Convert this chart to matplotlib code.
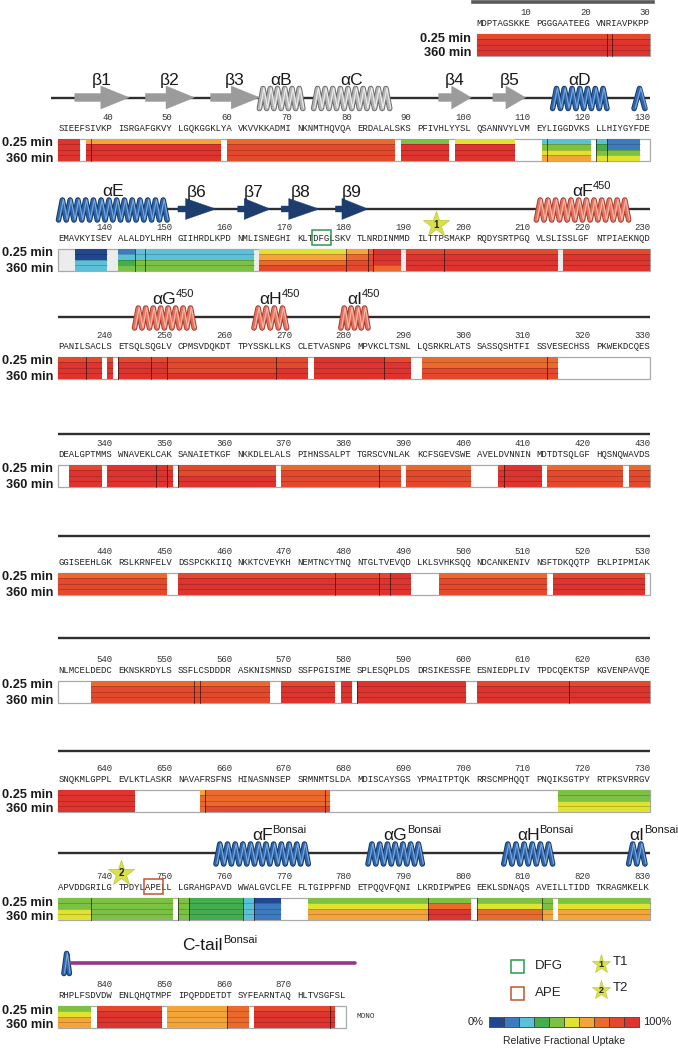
import matplotlib
matplotlib.use("Agg")
import matplotlib.pyplot as plt
from matplotlib.patches import Rectangle, Polygon

plt.rcParams['font.family'] = ['Liberation Sans', 'DejaVu Sans']

# ---------------- data ----------------
SEQ_GROUPS = [
    "MDPTAGSKKE", "PGGGAATEEG", "VNRIAVPKPP",
    "SIEEFSIVKP", "ISRGAFGKVY", "LGQKGGKLYA", "VKVVKKADMI", "NKNMTHQVQA", "ERDALALSKS", "PFIVHLYYSL", "QSANNVYLVM", "EYLIGGDVKS", "LLHIYGYFDE",
    "EMAVKYISEV", "ALALDYLHRH", "GIIHRDLKPD", "NMLISNEGHI", "KLTDFGLSKV", "TLNRDINMMD", "ILTTPSMAKP", "RQDYSRTPGQ", "VLSLISSLGF", "NTPIAEKNQD",
    "PANILSACLS", "ETSQLSQGLV", "CPMSVDQKDT", "TPYSSKLLKS", "CLETVASNPG", "MPVKCLTSNL", "LQSRKRLATS", "SASSQSHTFI", "SSVESECHSS", "PKWEKDCQES",
    "DEALGPTMMS", "WNAVEKLCAK", "SANAIETKGF", "NKKDLELALS", "PIHNSSALPT", "TGRSCVNLAK", "KCFSGEVSWE", "AVELDVNNIN", "MDTDTSQLGF", "HQSNQWAVDS",
    "GGISEEHLGK", "RSLKRNFELV", "DSSPCKKIIQ", "NKKTCVEYKH", "NEMTNCYTNQ", "NTGLTVEVQD", "LKLSVHKSQQ", "NDCANKENIV", "NSFTDKQQTP", "EKLPIPMIAK",
    "NLMCELDEDC", "EKNSKRDYLS", "SSFLCSDDDR", "ASKNISMNSD", "SSFPGISIME", "SPLESQPLDS", "DRSIKESSFE", "ESNIEDPLIV", "TPDCQEKTSP", "KGVENPAVQE",
    "SNQKMLGPPL", "EVLKTLASKR", "NAVAFRSFNS", "HINASNNSEP", "SRMNMTSLDA", "MDISCAYSGS", "YPMAITPTQK", "RRSCMPHQQT", "PNQIKSGTPY", "RTPKSVRRGV",
    "APVDDGRILG", "TPDYLAPELL", "LGRAHGPAVD", "WWALGVCLFE", "FLTGIPPFND", "ETPQQVFQNI", "LKRDIPWPEG", "EEKLSDNAQS", "AVEILLTIDD", "TKRAGMKELK",
    "RHPLFSDVDW", "ENLQHQTMPF", "IPQPDDETDT", "SYFEARNTAQ", "HLTVSGFSL",
]
ROW_FIRST = [-69, 31, 131, 231, 331, 431, 531, 631, 731, 831]
TIME_LABELS = ["0.25 min", "360 min"]

# peptide coverage: start, end, colour level per time point (0.25 min ... 360 min)
SEG_START = [1, 23, 24,
             31, 36, 37, 60, 89, 98, 112, 113, 121, 123,
             134, 141, 144, 146, 165, 180, 183, 184, 190, 196, 216,
             231, 236, 240, 241, 247, 250, 268, 274, 286, 292, 313,
             333, 340, 348, 350, 351, 369, 385, 390, 405, 406, 413, 427,
             431, 451, 478, 485, 487, 495, 514,
             537, 554, 555, 569, 579, 581, 601, 617,
             631, 655, 656, 676, 715,
             731, 737, 751, 753, 762, 764, 773, 793, 801, 812, 815,
             831, 838, 850, 860, 864, 877]
SEG_END = [22, 23, 30,
           34, 36, 58, 87, 96, 107, 112, 120, 122, 128,
           139, 143, 145, 163, 179, 182, 183, 188, 195, 214, 230,
           235, 238, 240, 246, 249, 267, 272, 285, 290, 312, 314,
           338, 347, 349, 350, 367, 384, 388, 400, 405, 411, 425, 430,
           449, 477, 484, 486, 490, 512, 529,
           553, 554, 566, 577, 580, 599, 616, 630,
           643, 655, 675, 676, 730,
           736, 750, 752, 761, 763, 768, 792, 800, 811, 813, 830,
           836, 848, 859, 862, 876, 877]
SEG_LEVELS = [[8, 9, 9, 9], [8, 9, 9, 9], [8, 9, 9, 9],
              [9, 9, 9, 9], [6, 9, 9, 9], [6, 9, 9, 9], [7, 8, 8, 8], [4, 9, 9, 9], [5, 9, 9, 9],
              [2, 4, 5, 6], [2, 4, 5, 6], [2, 3, 4, 5], [1, 1, 4, 5],
              [0, 0, 2, 2], [1, 2, 3, 4], [2, 2, 4, 4], [2, 2, 4, 4], [5, 6, 7, 8], [6, 7, 8, 8],
              [7, 8, 8, 8], [9, 9, 9, 7], [8, 9, 9, 9], [8, 9, 9, 9], [8, 9, 9, 9],
              [8, 9, 9, 9], [8, 9, 9, 9], [8, 9, 9, 9], [8, 9, 9, 9], [8, 9, 9, 9], [8, 8, 8, 9],
              [8, 8, 9, 9], [9, 9, 9, 9], [8, 9, 9, 9], [7, 7, 8, 8], [7, 7, 8, 8],
              [8, 9, 9, 9], [9, 9, 9, 9], [9, 9, 9, 9], [8, 9, 9, 9], [8, 8, 9, 9], [7, 8, 8, 8],
              [7, 8, 8, 8], [7, 8, 8, 8], [8, 9, 9, 9], [9, 9, 9, 9], [7, 8, 8, 8], [7, 8, 8, 8],
              [7, 8, 8, 8], [8, 9, 9, 9], [8, 9, 9, 9], [8, 9, 9, 9], [9, 9, 9, 9], [7, 8, 8, 8], [8, 9, 9, 9],
              [7, 8, 8, 8], [7, 8, 8, 8], [7, 8, 8, 8], [8, 9, 9, 9], [9, 9, 9, 9], [9, 9, 9, 9], [8, 9, 9, 9], [8, 9, 9, 9],
              [9, 9, 9, 9], [6, 7, 7, 7], [7, 7, 7, 8], [7, 7, 7, 8], [4, 4, 5, 5],
              [4, 4, 5, 5], [4, 4, 4, 4], [4, 4, 4, 4], [3, 3, 3, 3], [2, 2, 2, 2], [0, 1, 1, 1],
              [4, 5, 6, 6], [4, 7, 9, 9], [4, 5, 7, 7], [4, 4, 6, 6], [4, 5, 6, 6],
              [4, 5, 6, 6], [8, 9, 9, 9], [6, 6, 6, 6], [7, 7, 7, 7], [8, 9, 9, 9], [8, 9, 9, 9]]

UPTAKE_COLORS = ["#22468f", "#3d7bc1", "#5cc0d6", "#44ad50", "#7cc143",
                 "#dfe22f", "#f4a53a", "#ea6a2d", "#e3492c", "#dd3430"]

# secondary structure: kind, start, end, style, label, superscript
SS_KIND = ["strand", "strand", "strand", "helix", "helix", "strand", "strand", "helix", "helix",
           "helix", "strand", "strand", "strand", "strand", "helix",
           "helix", "helix", "helix",
           "helix", "helix", "helix", "helix",
           "helix", "coil"]
SS_START = [34, 46, 57, 65, 74, 95, 104, 114, 128,
            131, 151, 161, 169, 178, 211,
            244, 264, 279,
            758, 783, 806, 827,
            832, 833]
SS_END = [42, 53, 64, 71, 86, 100, 109, 122, 129,
          149, 157, 166, 174, 182, 226,
          253, 269, 282,
          772, 791, 813, 829,
          832, 880]
SS_STYLE = ["gray", "gray", "gray", "gray", "gray", "gray", "gray", "blue", "blue",
            "blue", "navy", "navy", "navy", "navy", "salmon",
            "salmon", "salmon", "salmon",
            "blue", "blue", "blue", "blue",
            "blue", "purple"]
SS_LABEL = ["β1", "β2", "β3", "αB", "αC", "β4", "β5", "αD", "",
            "αE", "β6", "β7", "β8", "β9", "αF",
            "αG", "αH", "αI",
            "αF", "αG", "αH", "αI",
            "", "C-tail"]
SS_SUP = ["", "", "", "", "", "", "", "", "",
          "", "", "", "", "", "450",
          "450", "450", "450",
          "Bonsai", "Bonsai", "Bonsai", "Bonsai",
          "", "Bonsai"]

MOTIF_NAMES = ["DFG", "APE"]
MOTIF_START = [174, 746]
MOTIF_END = [176, 748]
MOTIF_COLORS = ["#2e9a4a", "#c0562e"]

SITE_NAMES = ["T1", "T2"]
SITE_RESIDUE = [194, 741]

SEQ_LEN = 879

# ---------------- layout ----------------
X0 = 58.5      # px of first column
CW = 5.43      # px per character column
STRIP_TOP = [34, 139, 249, 357, 465, 573, 681, 790, 898, 1006]
LINE_Y = [1.5, 97.5, 209, 317, 433.5, 536, 637.5, 751, 853, 962.5]
STRIP_H = 21.5
STRIP_BG = ["white", "white", "#ececec", "white", "white", "white", "white", "white", "white", "white"]

HELIX_COL = {"gray": ("#b4b4b4", "#6a6a6a", "#eeeeee"),
             "blue": ("#2f66aa", "#133868", "#7eaadd"),
             "salmon": ("#e2735f", "#a63a30", "#f7bcaa")}
ARROW_COL = {"gray": "#9b9b9b", "navy": "#1c3d6e"}
LABEL_FONT = ["Liberation Sans", "DejaVu Sans"]


def pxcol(px):
    return (px - X0) / CW


def row_of(r):
    return (r + 69) // 100


def col_of(r):
    k = row_of(r)
    j = r - ROW_FIRST[k]
    return j + j // 10


fig = plt.figure(figsize=(6.78, 10.49), dpi=100)
ax = fig.add_axes([0, 0, 1, 1])
ax.set_xlim(pxcol(0), pxcol(678))
ax.set_ylim(1049, 0)
ax.axis("off")

MONO = ["Liberation Mono", "DejaVu Sans Mono"]

# ---------------- sequence text and numbers ----------------
res = 1
for g in SEQ_GROUPS:
    k = row_of(res)
    ax.text(col_of(res), STRIP_TOP[k] - 10.5, g, family=MONO, fontsize=6.5,
            ha="left", va="center", color="#222222")
    for i in range(len(g)):
        r = res + i
        if r % 10 == 0:
            ax.text(col_of(r) + 1, STRIP_TOP[k] - 21.5, str(r), family=MONO, fontsize=6.5,
                    ha="right", va="center", color="#333333")
    res += len(g)

# ---------------- strips ----------------
for k in range(len(ROW_FIRST)):
    first = max(1, ROW_FIRST[k])
    last = min(SEQ_LEN, ROW_FIRST[k] + 99)
    ca, cb = col_of(first), col_of(last) + 1
    top = STRIP_TOP[k]
    ax.add_patch(Rectangle((ca, top), cb - ca, STRIP_H, facecolor=STRIP_BG[k],
                           edgecolor="#a9a9a9", lw=0.9, zorder=1))
    lx = col_of(first) - 1.0
    ax.text(lx, top + 4.5, TIME_LABELS[0], family=LABEL_FONT, fontsize=9.2, fontweight="bold",
            ha="right", va="center", color="#1a1a1a")
    ax.text(lx, top + 19.5, TIME_LABELS[1], family=LABEL_FONT, fontsize=9.2, fontweight="bold",
            ha="right", va="center", color="#1a1a1a")

lh = STRIP_H / 4
prev_end = None
for s, e, lv in zip(SEG_START, SEG_END, SEG_LEVELS):
    k = row_of(s)
    top = STRIP_TOP[k]
    x = col_of(s)
    wd = col_of(e) + 1 - x
    for i in range(4):
        ax.add_patch(Rectangle((x, top + i * lh), wd, lh, facecolor=UPTAKE_COLORS[lv[i]],
                               edgecolor="none", zorder=2))
    for i in range(1, 4):
        ax.plot([x, x + wd], [top + i * lh] * 2, color=(0, 0, 0, 0.3), lw=0.45, zorder=3)
    if prev_end is not None and prev_end == s - 1 and row_of(prev_end) == k:
        ax.plot([x, x], [top, top + STRIP_H], color=(0.1, 0.05, 0.05, 0.75), lw=0.6, zorder=3)
    prev_end = e

ax.text(pxcol(357), STRIP_TOP[9] + 10, "MONO", family=MONO, fontsize=5.5,
        ha="left", va="center", color="#333333")

# ---------------- structure lines ----------------
for k in range(1, 9):
    start = pxcol(51) if k == 1 else 0
    ax.plot([start, 109], [LINE_Y[k]] * 2, color="#2e2e2e", lw=1.7, zorder=4,
            solid_capstyle="butt")
ax.plot([col_of(1) - 0.7, 109.5], [LINE_Y[0]] * 2, color="#5a5a5a", lw=2.6, zorder=4)


def draw_helix(c0, c1, yc, h, style):
    main, dark, light = HELIX_COL[style]
    wpx = (c1 - c0) * CW
    n = max(1, int(round(wpx / 7.6)))
    p = (c1 - c0) / n
    yt, yb = yc - h / 2, yc + h / 2
    xs, ys = [], []
    for t in range(n):
        xs += [c0 + t * p, c0 + (t + 0.5) * p]
        ys += [yb, yt]
    xs.append(c1)
    ys.append(yb)
    ax.plot(xs, ys, color=dark, lw=4.0, zorder=5, solid_joinstyle="round", solid_capstyle="round")
    ax.plot(xs, ys, color=main, lw=2.7, zorder=6, solid_joinstyle="round", solid_capstyle="round")
    ax.plot([x + 0.12 * p for x in xs], [y - 0.5 for y in ys], color=light, lw=0.8, zorder=7,
            solid_joinstyle="round")


def draw_strand(c0, c1, yc, style):
    L = c1 - c0
    if style == "navy":
        hl = L * 0.8
        bh, hh = 3.0, 10.5
    else:
        hl = min(5.2, L * 0.6)
        bh, hh = 4.0, 11.5
    ch = c1 - hl
    pts = [(c0, yc - bh), (ch, yc - bh), (ch, yc - hh), (c1, yc), (ch, yc + hh),
           (ch, yc + bh), (c0, yc + bh)]
    ax.add_patch(Polygon(pts, closed=True, facecolor=ARROW_COL[style],
                         edgecolor=ARROW_COL[style], lw=0.3, zorder=6))


for kind, s, e, st, lab, sup in zip(SS_KIND, SS_START, SS_END, SS_STYLE, SS_LABEL, SS_SUP):
    k = row_of(s)
    yc = LINE_Y[k]
    c0 = col_of(s)
    if e <= SEQ_LEN:
        c1 = col_of(e) + 1
    else:
        c1 = col_of(SEQ_LEN) + 1 + (e - SEQ_LEN)
    if kind == "helix":
        draw_helix(c0, c1, yc + 1, 20, st)
    elif kind == "strand":
        draw_strand(c0, c1, yc, st)
    else:
        ax.plot([c0, c1 + 0.6], [yc, yc], color="#8e3a8c", lw=2.6, zorder=5,
                solid_capstyle="round")
    if lab:
        cx = (c0 + c1) / 2 if kind != "coil" else (c0 + c1) / 2 - 1.5
        t = ax.text(cx, yc - 17, lab, family=LABEL_FONT, fontsize=12.5, ha="center",
                    va="center", color="#1a1a1a", zorder=8)
        if sup:
            ax.annotate(sup, xy=(1.0, 0.55), xycoords=t, family=LABEL_FONT, fontsize=8,
                        ha="left", va="bottom", color="#1a1a1a", annotation_clip=False)

# ---------------- motifs and sites ----------------
for name, s, e, c in zip(MOTIF_NAMES, MOTIF_START, MOTIF_END, MOTIF_COLORS):
    k = row_of(s)
    top = STRIP_TOP[k]
    x = col_of(s) - 0.25
    ax.add_patch(Rectangle((x, top - 19), col_of(e) + 1.25 - x, 15, facecolor="none",
                           edgecolor=c, lw=1.1, zorder=9))

for name, r in zip(SITE_NAMES, SITE_RESIDUE):
    k = row_of(r)
    cx = col_of(r) + 0.5
    cy = STRIP_TOP[k] - 25
    ax.plot(cx, cy, marker="*", ms=19, mfc="#d8e04c", mec="#c3cb3c", mew=0.6, zorder=10)
    ax.text(cx, cy + 0.5, name[1], fontsize=7, fontweight="bold", ha="center",
            va="center", color="#222222", zorder=11)

# ---------------- legend ----------------
for i, (name, c) in enumerate(zip(MOTIF_NAMES, MOTIF_COLORS)):
    yc = 966 + i * 27
    ax.add_patch(Rectangle((pxcol(511), yc - 6.5), 13 / CW, 13, facecolor="none",
                           edgecolor=c, lw=1.1))
    ax.text(pxcol(535), yc, name, fontsize=9.5, ha="left", va="center", color="#222222")
for i, name in enumerate(SITE_NAMES):
    yc = 964 + i * 26
    ax.plot(pxcol(601), yc, marker="*", ms=14, mfc="#d8e04c", mec="#c3cb3c", mew=0.5)
    ax.text(pxcol(601), yc + 0.5, name[1], fontsize=6.5, fontweight="bold", ha="center",
            va="center", color="#222222")
    ax.text(pxcol(613), yc - 2, name, fontsize=9.5, ha="left", va="center", color="#222222")

cb0, cb1 = pxcol(489), pxcol(639)
bw = (cb1 - cb0) / len(UPTAKE_COLORS)
for i, c in enumerate(UPTAKE_COLORS):
    ax.add_patch(Rectangle((cb0 + i * bw, 1017), bw, 10, facecolor=c, edgecolor="#333333", lw=0.5))
ax.add_patch(Rectangle((cb0, 1017), cb1 - cb0, 10, facecolor="none", edgecolor="#555555", lw=0.6))
ax.text(cb0 - 0.9, 1022, "0%", fontsize=8, ha="right", va="center", color="#222222")
ax.text(cb1 + 0.8, 1022, "100%", fontsize=8, ha="left", va="center", color="#222222")
ax.text((cb0 + cb1) / 2, 1041, "Relative Fractional Uptake", fontsize=7.5, ha="center",
        va="center", color="#222222")

fig.savefig("out.png", dpi=100, facecolor="white")
